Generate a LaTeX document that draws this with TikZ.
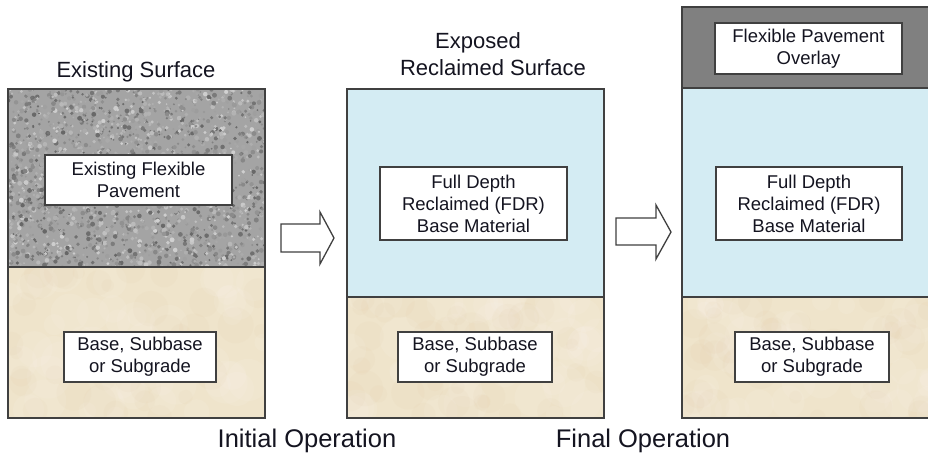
\documentclass[tikz,border=0pt]{standalone}
\usepackage{fontspec}
\setmainfont{Liberation Sans}
\definecolor{granite}{HTML}{A4A4A4}
\definecolor{beige}{HTML}{EFE4CB}
\definecolor{fdrblue}{HTML}{D4ECF3}
\definecolor{overlaygray}{HTML}{808080}
\definecolor{edge}{HTML}{404040}
\definecolor{ink}{HTML}{141420}
\tikzset{
  layer/.style={draw=edge, line width=1.4pt},
  labelbox/.style={draw=edge, line width=1.3pt, fill=white, align=center, inner sep=0pt,
    font=\fontsize{18.5}{22}\selectfont, text=ink},
  title/.style={font=\fontsize{22}{26}\selectfont, text=ink, inner sep=0pt, anchor=base},
  oplabel/.style={font=\fontsize{25.5}{28}\selectfont, text=ink, inner sep=0pt, anchor=base},
  blockarrow/.style={draw=edge, line width=1.3pt, fill=white, line join=miter}
}
\begin{document}
\begin{tikzpicture}[x=1pt,y=-1pt]
\clip (0,0) rectangle (928,459);
\fill[white] (0,0) rectangle (928,459);
\pgfmathsetseed{11}
% ---------- panel 1: existing pavement (granite texture)
\begin{scope}
  \clip (8,89) rectangle (265,267);
  \fill[granite] (8,89) rectangle (265,267);
  \foreach \i in {1,...,2200}{
    \pgfmathsetmacro\px{8+257*rnd}
    \pgfmathsetmacro\py{89+178*rnd}
    \pgfmathsetmacro\rr{0.9+1.6*rnd}
    \pgfmathsetmacro\sh{18+42*rnd}
    \fill[black!\sh!white] (\px,\py) circle (\rr);
  }
\end{scope}
% beige textures
\foreach \xa/\xb/\ya in {8/265/267, 347/604/297, 682/940/297}{
  \begin{scope}
    \clip (\xa,\ya) rectangle (\xb,418);
    \fill[beige] (\xa,\ya) rectangle (\xb,418);
    \foreach \j in {1,...,50}{
      \pgfmathsetmacro\px{\xa+(\xb-\xa)*rnd}
      \pgfmathsetmacro\py{\ya+(418-\ya)*rnd}
      \pgfmathsetmacro\rr{8+14*rnd}
      \fill[white, opacity=0.08] (\px,\py) circle (\rr);
    }
    \foreach \j in {1,...,40}{
      \pgfmathsetmacro\px{\xa+(\xb-\xa)*rnd}
      \pgfmathsetmacro\py{\ya+(418-\ya)*rnd}
      \pgfmathsetmacro\rr{6+12*rnd}
      \fill[brown!40!beige, opacity=0.06] (\px,\py) circle (\rr);
    }
  \end{scope}
}
% ---------- layers
\draw[layer] (8,89) rectangle (265,418);
\draw[layer] (8,267) -- (265,267);
\fill[fdrblue] (347,89) rectangle (604,297);
\draw[layer] (347,89) rectangle (604,418);
\draw[layer] (347,297) -- (604,297);
\fill[overlaygray] (682,7) rectangle (940,88);
\fill[fdrblue] (682,88) rectangle (940,297);
\draw[layer] (682,7) rectangle (940,418);
\draw[layer] (682,88) -- (940,88);
\draw[layer] (682,297) -- (940,297);
% ---------- label boxes
\node[labelbox, minimum width=187pt, minimum height=50pt] (efp) at (138.5,180) {Existing Flexible\\Pavement};
\node[labelbox, minimum width=152pt, minimum height=50pt] (b1) at (140,357) {Base, Subbase\\or Subgrade};
\node[labelbox, minimum width=187pt, minimum height=73pt] (fdr2) at (473.5,203.5) {Full Depth\\Reclaimed (FDR)\\Base Material};
\node[labelbox, minimum width=154pt, minimum height=50pt] (b2) at (475,357) {Base, Subbase\\or Subgrade};
\node[labelbox, minimum width=187pt, minimum height=51pt] (ovl) at (808.5,48.5) {Flexible Pavement\\Overlay};
\node[labelbox, minimum width=186pt, minimum height=73pt] (fdr3) at (809,203.5) {Full Depth\\Reclaimed (FDR)\\Base Material};
\node[labelbox, minimum width=154pt, minimum height=50pt] (b3) at (812,357) {Base, Subbase\\or Subgrade};
% ---------- titles
\node[title] (t1) at (136,77) {Existing Surface};
\node[title] (t2a) at (478,48) {Exposed};
\node[title] (t2b) at (493,75) {Reclaimed Surface};
\node[oplabel] (op1) at (307,447) {Initial Operation};
\node[oplabel] (op2) at (643,447) {Final Operation};
% ---------- block arrows
\draw[blockarrow] (281,224) -- (320,224) -- (320,212) -- (334,238) -- (320,264) -- (320,252) -- (281,252) -- cycle;
\draw[blockarrow] (616,218) -- (656,218) -- (656,205) -- (671,232) -- (656,259) -- (656,245) -- (616,245) -- cycle;
\end{tikzpicture}
\end{document}
